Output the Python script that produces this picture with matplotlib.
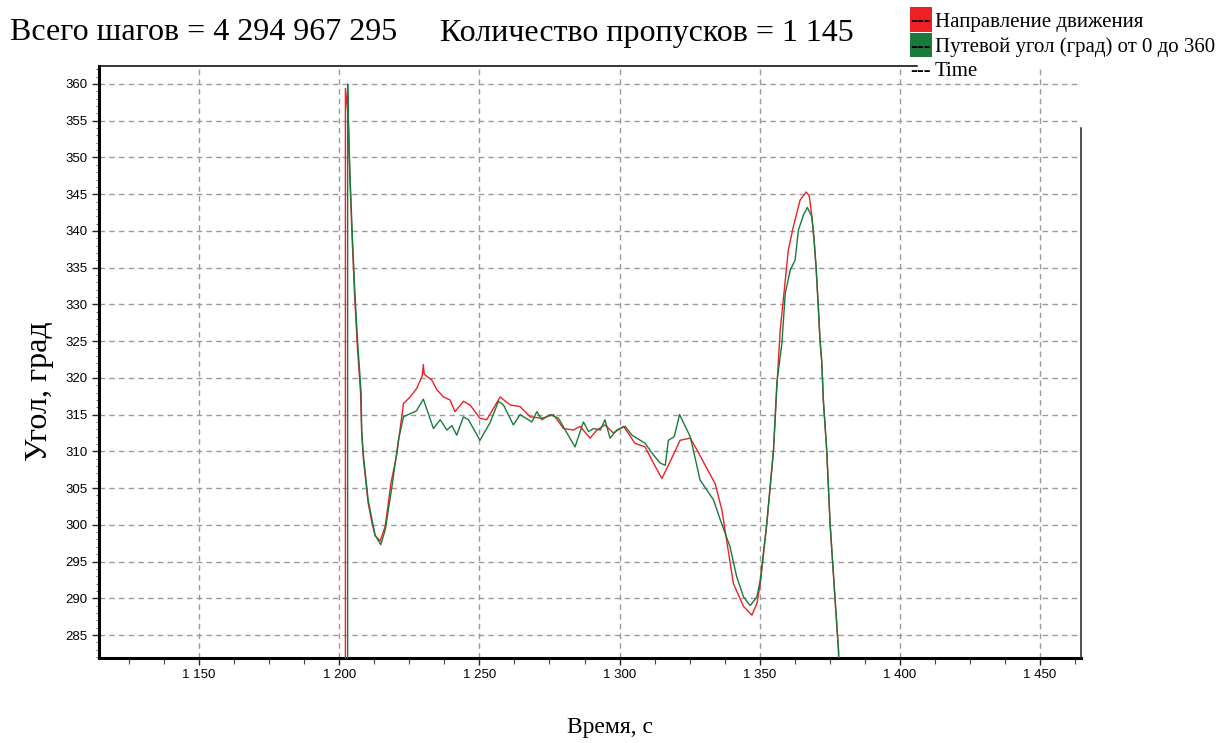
import numpy as np
import matplotlib
matplotlib.use("Agg")
import matplotlib.pyplot as plt
from matplotlib.ticker import MultipleLocator, FuncFormatter
from matplotlib.patches import Rectangle

# --- data (time in s, angle in degrees) ---
t_red = [1202.2, 1202.2, 1203.2, 1203.8, 1204.6, 1205.5, 1206.5, 1207.6, 1208.0, 1208.6,
         1210.3, 1211.7, 1212.8, 1214.6, 1216.4, 1218.5, 1220.5, 1222.9, 1225.3, 1227.7,
         1229.6, 1230.0, 1230.3, 1233.0, 1234.8, 1237.2, 1239.5, 1241.3, 1244.3, 1246.7,
         1250.2, 1252.6, 1257.4, 1261.0, 1264.5, 1268.1, 1272.3, 1276.4, 1280.0, 1283.5,
         1285.9, 1289.5, 1291.9, 1294.8, 1297.8, 1301.4, 1305.5, 1309.1, 1312.1, 1315.1,
         1317.4, 1321.6, 1325.2, 1327.6, 1331.1, 1334.1, 1336.5, 1340.6, 1344.2, 1347.2,
         1349.0, 1350.2, 1352.5, 1354.9, 1356.3, 1357.3, 1358.5, 1360.2, 1362.0, 1364.4,
         1366.6, 1367.7, 1368.6, 1369.4, 1370.1, 1370.9, 1371.5, 1372.1, 1372.7, 1373.9,
         1375.1, 1376.9, 1378.1, 1378.8]
v_red = [0.0, 359.4, 355.5, 347.0, 339.0, 331.0, 324.0, 318.0, 312.5, 309.0,
         303.0, 300.2, 298.5, 297.8, 299.8, 305.8, 309.5, 316.5, 317.4, 318.6,
         320.3, 321.8, 320.5, 319.7, 318.4, 317.4, 317.0, 315.4, 316.8, 316.3,
         314.5, 314.3, 317.4, 316.3, 316.1, 314.7, 314.5, 315.0, 313.1, 312.9,
         313.4, 311.8, 312.9, 313.6, 312.5, 313.4, 311.1, 310.6, 308.4, 306.3,
         308.1, 311.5, 311.8, 310.2, 307.7, 305.6, 302.0, 292.0, 288.9, 287.7,
         289.3, 292.0, 300.0, 310.0, 320.0, 326.5, 331.0, 337.4, 340.6, 344.2,
         345.3, 344.7, 341.9, 338.6, 335.0, 329.5, 325.0, 322.2, 316.8, 310.0,
         300.0, 289.6, 282.8, 270.0]

t_green = [1203.0, 1203.0, 1203.2, 1203.8, 1204.6, 1205.5, 1206.5, 1207.8, 1208.0, 1208.6,
           1210.3, 1211.7, 1212.8, 1214.8, 1216.4, 1218.8, 1221.1, 1222.9, 1224.6, 1227.5,
           1230.0, 1233.6, 1236.0, 1238.4, 1240.2, 1241.9, 1244.3, 1246.1, 1250.2, 1253.8,
           1256.8, 1258.6, 1262.1, 1264.5, 1268.7, 1270.5, 1272.3, 1275.2, 1278.2, 1284.1,
           1287.1, 1288.9, 1290.7, 1293.1, 1294.8, 1296.6, 1299.0, 1302.0, 1304.4, 1309.1,
           1312.1, 1314.5, 1316.3, 1317.4, 1319.5, 1321.4, 1325.2, 1326.3, 1328.7, 1333.5,
           1335.9, 1339.4, 1341.8, 1344.2, 1346.6, 1349.0, 1350.2, 1352.5, 1354.9, 1356.1,
           1357.9, 1359.1, 1360.9, 1362.6, 1363.8, 1365.6, 1367.0, 1368.6, 1369.4, 1370.1,
           1370.9, 1371.5, 1372.1, 1372.7, 1373.9, 1375.1, 1376.9, 1378.1, 1378.8]
v_green = [0.0, 360.0, 356.0, 348.0, 340.0, 332.2, 325.2, 318.0, 312.9, 309.5,
           303.4, 300.7, 298.6, 297.3, 299.3, 305.2, 311.5, 314.7, 315.0, 315.5,
           317.1, 313.1, 314.3, 312.9, 313.5, 312.2, 314.7, 314.3, 311.5, 313.9,
           316.8, 316.3, 313.6, 315.0, 314.0, 315.4, 314.3, 315.0, 314.5, 310.6,
           314.0, 312.7, 313.1, 312.9, 314.3, 311.8, 312.9, 313.4, 312.2, 311.1,
           309.5, 308.4, 308.1, 311.5, 312.0, 315.0, 312.0, 310.2, 306.1, 303.4,
           300.7, 297.0, 292.9, 290.2, 289.0, 290.2, 292.5, 300.2, 310.2, 319.3,
           324.7, 331.5, 334.7, 336.0, 340.1, 342.2, 343.2, 341.9, 338.8, 335.1,
           329.7, 325.2, 322.4, 317.0, 310.2, 300.2, 289.8, 283.0, 270.0]

legend_labels = ["Направление движения", "Путевой угол (град) от 0 до 360", "Time"]
total_steps = "4 294 967 295"
missed = "1 145"

RED = "#ED2024"
GREEN = "#1A7A3C"

W, H = 1229, 743
fig = plt.figure(figsize=(W / 100, H / 100), dpi=100)
ax = fig.add_axes([99 / W, 1 - 658 / H, (1081 - 99) / W, (658 - 66) / H])

ax.plot(t_red, v_red, color=RED, lw=1.0, zorder=3)
ax.plot(t_green, v_green, color=GREEN, lw=1.0, zorder=4)

ax.set_xlim(1114.3, 1464.6)
ax.set_ylim(281.87, 362.45)

ax.xaxis.set_major_locator(MultipleLocator(50))
ax.xaxis.set_minor_locator(MultipleLocator(12.5))
ax.yaxis.set_major_locator(MultipleLocator(5))
ax.yaxis.set_minor_locator(MultipleLocator(1))
ax.xaxis.set_major_formatter(FuncFormatter(lambda v, p: "{:,.0f}".format(v).replace(",", " ")))

ax.tick_params(which="major", length=5, width=1, color="#222222", pad=3, labelsize=9.5)
ax.tick_params(axis="x", which="minor", length=4, width=0.8, color="#444444")
ax.tick_params(axis="y", which="minor", length=2, width=0.7, color="#666666")
plt.setp(ax.get_xticklabels(), family="Liberation Sans")
plt.setp(ax.get_yticklabels(), family="Liberation Sans")

ax.grid(True, which="major", color="#9a9a9a", linestyle=(0, (4, 3)), linewidth=1.0)
ax.set_axisbelow(True)

for s in ["top", "right"]:
    ax.spines[s].set_visible(False)
for s in ["left", "bottom"]:
    ax.spines[s].set_linewidth(2.2)
    ax.spines[s].set_color("black")

# partial top border and right border (cut by the legend area)
ax.plot([0, (917 - 99) / (1081 - 99)], [1, 1], transform=ax.transAxes,
        color="black", lw=1.1, clip_on=False, zorder=5)
ax.plot([1, 1], [0, (658 - 128) / (658 - 66)], transform=ax.transAxes,
        color="#222222", lw=1.1, clip_on=False, zorder=5)

serif = "Liberation Serif"
fig.text(10 / W, 1 - 33 / H, "Всего шагов = " + total_steps, family=serif,
         fontsize=23, va="center", ha="left")
fig.text(440 / W, 1 - 33 / H, "Количество пропусков = " + missed, family=serif,
         fontsize=23, va="center", ha="left")
fig.text(40 / W, 1 - 391 / H, "Угол, град", family=serif, fontsize=23,
         rotation=90, va="center", ha="center")
fig.text(610 / W, 1 - 728 / H, "Время, с", family=serif, fontsize=17,
         va="center", ha="center")

# legend drawn by hand
patch_cols = [RED, GREEN, None]
for i, (lab, col) in enumerate(zip(legend_labels, patch_cols)):
    yc = 20 + i * 25
    if col is not None:
        fig.patches.append(Rectangle((910 / W, 1 - (yc + 12) / H), 22 / W, 24.5 / H,
                                     transform=fig.transFigure, facecolor=col,
                                     edgecolor="none"))
    fig.text(910 / W, 1 - (yc + 2) / H, "---", family=serif, fontsize=15,
             va="center", ha="left")
    fig.text(935 / W, 1 - (yc + 2) / H, lab, family=serif, fontsize=15,
             va="center", ha="left")

fig.savefig("out.png", dpi=100)
